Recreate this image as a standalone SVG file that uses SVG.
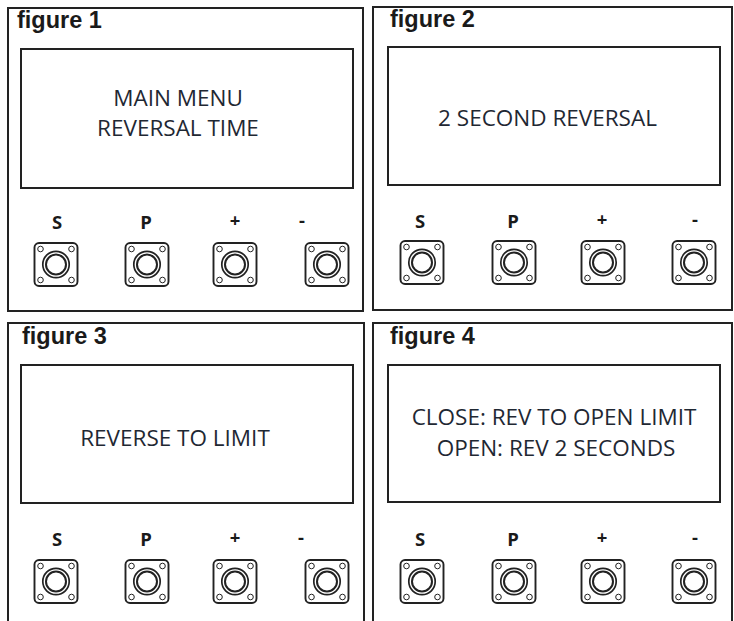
<svg xmlns="http://www.w3.org/2000/svg" xmlns:xlink="http://www.w3.org/1999/xlink" width="734" height="621" viewBox="0 0 734 621">
<style>
.panel{fill:#fff;stroke:#222;stroke-width:2}
.screen{fill:#fff;stroke:#222;stroke-width:2}
.fig{font-family:"Liberation Sans",Arial,sans-serif;font-weight:bold;font-size:23.5px;fill:#1a1a1a}
.msg{font-family:"Open Sans","Noto Sans",sans-serif;font-size:22.5px;fill:#1f2833;text-anchor:middle}
.key{font-family:"Open Sans","Noto Sans",sans-serif;font-weight:bold;font-size:18.5px;fill:#1a1a1a;text-anchor:middle}
.b{fill:#fff;stroke:#222}
</style>
<defs>
<g id="btn">
<rect class="b" x="-21.5" y="-21.5" width="43" height="43" rx="4.5" stroke-width="1.9"/>
<circle class="b" cx="-15.5" cy="-15.5" r="2.8" stroke-width="1"/>
<circle class="b" cx="15.5" cy="-15.5" r="2.8" stroke-width="1"/>
<circle class="b" cx="-15.5" cy="15.5" r="2.8" stroke-width="1"/>
<circle class="b" cx="15.5" cy="15.5" r="2.8" stroke-width="1"/>
<circle class="b" cx="0" cy="0" r="13.2" stroke-width="1.7"/>
<circle class="b" cx="0" cy="0" r="10" stroke-width="2"/>
</g>
</defs>
<rect width="734" height="621" fill="#fff"/>

<g id="figure1">
<rect class="panel" x="8" y="8" width="355" height="303"/>
<text class="fig" x="17" y="28">figure 1</text>
<rect class="screen" x="21" y="49" width="332" height="139"/>
<text class="msg" x="178" y="106">MAIN MENU</text>
<text class="msg" x="178" y="136">REVERSAL TIME</text>
<text class="key" x="57" y="229">S</text>
<text class="key" x="146" y="229">P</text>
<text class="key" x="235" y="227">+</text>
<text class="key" x="302" y="227">-</text>
<use xlink:href="#btn" x="56" y="264.5"/>
<use xlink:href="#btn" x="147" y="264.5"/>
<use xlink:href="#btn" x="235" y="264.5"/>
<use xlink:href="#btn" x="327" y="264.5"/>
</g>

<g id="figure2">
<rect class="panel" x="373" y="7" width="359" height="303"/>
<text class="fig" x="390" y="27">figure 2</text>
<rect class="screen" x="388" y="47" width="332" height="138"/>
<text class="msg" x="547.5" y="126">2 SECOND REVERSAL</text>
<text class="key" x="420" y="228">S</text>
<text class="key" x="513" y="228">P</text>
<text class="key" x="602" y="226">+</text>
<text class="key" x="695" y="226">-</text>
<use xlink:href="#btn" x="422" y="262.5"/>
<use xlink:href="#btn" x="514" y="262.5"/>
<use xlink:href="#btn" x="603" y="262.5"/>
<use xlink:href="#btn" x="694" y="262.5"/>
</g>

<g id="figure3">
<rect class="panel" x="8" y="323" width="356" height="310"/>
<text class="fig" x="22" y="344">figure 3</text>
<rect class="screen" x="21" y="365" width="332" height="138"/>
<text class="msg" x="175" y="446">REVERSE TO LIMIT</text>
<text class="key" x="57" y="546">S</text>
<text class="key" x="146" y="546">P</text>
<text class="key" x="235" y="544">+</text>
<text class="key" x="301" y="544">-</text>
<use xlink:href="#btn" x="56" y="581.5"/>
<use xlink:href="#btn" x="147" y="581.5"/>
<use xlink:href="#btn" x="235" y="581.5"/>
<use xlink:href="#btn" x="327" y="581.5"/>
</g>

<g id="figure4">
<rect class="panel" x="373" y="323" width="359" height="310"/>
<text class="fig" x="390" y="344">figure 4</text>
<rect class="screen" x="388" y="365" width="332" height="137"/>
<text class="msg" x="554" y="425">CLOSE: REV TO OPEN LIMIT</text>
<text class="msg" x="556" y="456">OPEN: REV 2 SECONDS</text>
<text class="key" x="420" y="546">S</text>
<text class="key" x="513" y="546">P</text>
<text class="key" x="602" y="544">+</text>
<text class="key" x="695" y="544">-</text>
<use xlink:href="#btn" x="422" y="581.5"/>
<use xlink:href="#btn" x="514" y="581.5"/>
<use xlink:href="#btn" x="603" y="581.5"/>
<use xlink:href="#btn" x="694" y="581.5"/>
</g>

<g id="connectors"></g>
</svg>
